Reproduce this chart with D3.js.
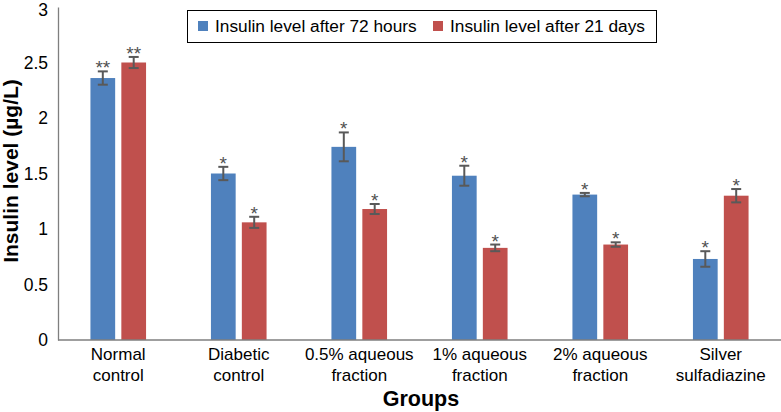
<!DOCTYPE html>
<html><head><meta charset="utf-8">
<script src="https://cdn.jsdelivr.net/npm/d3@7"></script>
<style>body{margin:0;background:#fff}svg{display:block;font-family:"Liberation Sans",Arial,sans-serif}</style>
</head><body><svg id="c" width="781" height="412"></svg>
<script>
const groups = [["Normal","control"],["Diabetic","control"],["0.5% aqueous","fraction"],["1% aqueous","fraction"],["2% aqueous","fraction"],["Silver","sulfadiazine"]];
const seriesNames = ["Insulin level after 72 hours","Insulin level after 21 days"];
const values72h = [2.36,1.50,1.74,1.48,1.31,0.73];
const err72h = [0.06,0.06,0.13,0.09,0.015,0.07];
const marks72h = ["**","*","*","*","*","*"];
const values21d = [2.50,1.06,1.18,0.83,0.86,1.30];
const err21d = [0.05,0.05,0.045,0.03,0.02,0.06];
const marks21d = ["**","*","*","*","*","*"];
const yTicks = [0,0.5,1,1.5,2,2.5,3];
const colors = ["#4F81BD","#C0504D"];

const svg = d3.select("#c");
const x = d3.scaleBand().domain(d3.range(groups.length)).range([58,781]).paddingInner(0).paddingOuter(0);
const xs = d3.scaleBand().domain([0,1]).range([0,x.bandwidth()]).paddingInner(0.2).paddingOuter(1.05);
const y = d3.scaleLinear().domain([0,3]).range([340,7]);

const series = [
  {vals:values72h, err:err72h, marks:marks72h},
  {vals:values21d, err:err21d, marks:marks21d}
];

// y axis
const yAxis = svg.append("g").attr("transform","translate(58,0)")
  .call(d3.axisLeft(y).tickValues(yTicks).tickSize(0).tickPadding(10).tickFormat(d=>String(d)));
yAxis.select(".domain").attr("stroke","#7f7f7f").attr("stroke-width",1.3);
yAxis.selectAll("text").attr("font-size",17.5).attr("fill","#000").attr("font-family","Liberation Sans, Arial, sans-serif");
yAxis.selectAll(".tick").filter(d=>d===3).select("text").attr("dy","0.5em");

series.forEach((s,si)=>{
  const g = svg.append("g");
  g.selectAll("rect").data(s.vals).join("rect")
    .attr("x",(d,i)=>x(i)+xs(si)).attr("width",xs.bandwidth())
    .attr("y",d=>y(d)).attr("height",d=>y(0)-y(d)).attr("fill",colors[si]);
  const eb = g.selectAll("g.eb").data(s.vals).join("g").attr("class","eb");
  const cx = i=>x(i)+xs(si)+xs.bandwidth()/2;
  eb.append("line").attr("x1",(d,i)=>cx(i)).attr("x2",(d,i)=>cx(i))
    .attr("y1",(d,i)=>y(d+s.err[i])).attr("y2",(d,i)=>y(d-s.err[i]))
    .attr("stroke","#595959").attr("stroke-width",2);
  [1,-1].forEach(sg=>{
    eb.append("line").attr("x1",(d,i)=>cx(i)-5).attr("x2",(d,i)=>cx(i)+5)
      .attr("y1",(d,i)=>y(d+sg*s.err[i])).attr("y2",(d,i)=>y(d+sg*s.err[i]))
      .attr("stroke","#595959").attr("stroke-width",2);
  });
  eb.append("text").attr("x",(d,i)=>cx(i)).attr("y",(d,i)=>y(d+s.err[i])+3)
    .attr("text-anchor","middle").attr("font-size",19).attr("fill","#505050")
    .text((d,i)=>s.marks[i]);
});

// x axis
svg.append("line").attr("x1",58).attr("x2",781).attr("y1",y(0)).attr("y2",y(0))
  .attr("stroke","#7f7f7f").attr("stroke-width",1.3);
const xl = svg.append("g").selectAll("text").data(groups).join("text")
  .attr("text-anchor","middle").attr("font-size",17).attr("fill","#000");
xl.each(function(d,i){
  const t = d3.select(this);
  d.forEach((ln,k)=>t.append("tspan").attr("x",x(i)+x.bandwidth()/2).attr("y",360+k*21).text(ln));
});

// titles
svg.append("text").attr("x",421).attr("y",406).attr("text-anchor","middle")
  .attr("font-size",21.5).attr("font-weight","bold").text("Groups");
svg.append("text").attr("transform","translate(18,171) rotate(-90)").attr("text-anchor","middle")
  .attr("font-size",21).attr("font-weight","bold").text("Insulin level (µg/L)");

// legend
const lg = svg.append("g");
lg.append("rect").attr("x",187.5).attr("y",10.5).attr("width",469).attr("height",32)
  .attr("fill","#fff").attr("stroke","#000").attr("stroke-width",1);
const lx = [198,433];
seriesNames.forEach((n,i)=>{
  lg.append("rect").attr("x",lx[i]).attr("y",21).attr("width",10).attr("height",10).attr("fill",colors[i]);
  lg.append("text").attr("x",lx[i]+17).attr("y",32).attr("font-size",17.3).attr("fill","#000").text(n);
});
</script></body></html>
